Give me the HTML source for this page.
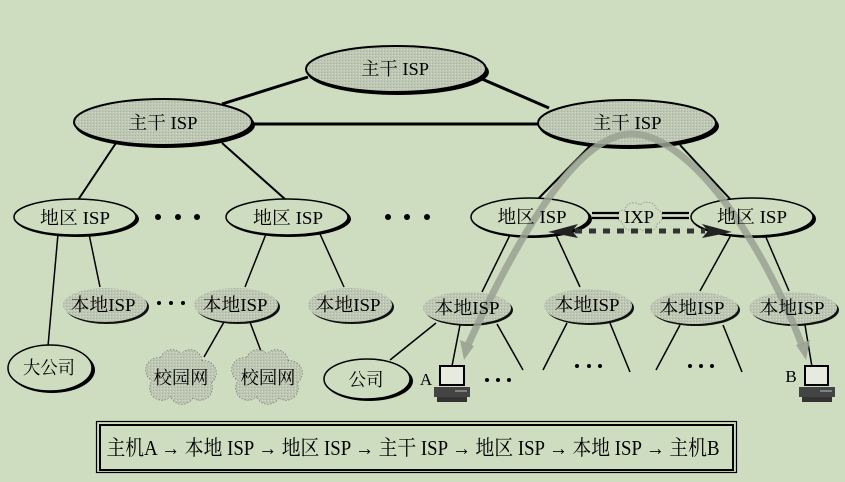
<!DOCTYPE html>
<html><head><meta charset="utf-8"><style>
html,body{margin:0;padding:0;background:#cedcc0;}
svg{display:block;}
text{font-family:"Liberation Serif","Noto Serif CJK SC",serif;fill:#000;}
</style></head><body>
<svg width="845" height="482" viewBox="0 0 845 482" xmlns="http://www.w3.org/2000/svg">
<defs>
<pattern id="stip" width="3" height="3" patternUnits="userSpaceOnUse">
<rect width="3" height="3" fill="#bec7b4"/>
<rect x="0" y="0" width="1" height="1" fill="#a9b19f"/>
<rect x="2" y="1" width="1" height="1" fill="#d2dac8"/>
</pattern>
</defs>
<rect width="845" height="482" fill="#cedcc0"/>

<!-- backbone links -->
<g stroke="#000" stroke-width="3" fill="none">
<line x1="222" y1="104" x2="308" y2="77"/>
<line x1="482" y1="79" x2="549" y2="108"/>
<line x1="252" y1="124" x2="538" y2="124"/>
</g>
<!-- backbone to regional -->
<g stroke="#000" stroke-width="2" fill="none">
<line x1="116" y1="143" x2="78" y2="200"/>
<line x1="222" y1="143" x2="286" y2="200"/>
<line x1="591" y1="145" x2="537" y2="200"/>
<line x1="680" y1="145" x2="731" y2="200"/>
</g>
<!-- regional to local -->
<g stroke="#000" stroke-width="1.5" fill="none">
<line x1="58" y1="234" x2="48" y2="346"/>
<line x1="89" y1="234" x2="100" y2="287"/>
<line x1="266" y1="234" x2="245" y2="287"/>
<line x1="320" y1="234" x2="344" y2="287"/>
<line x1="510" y1="235" x2="482" y2="292"/>
<line x1="556" y1="235" x2="580" y2="287"/>
<line x1="731" y1="235" x2="700" y2="291"/>
<line x1="765" y1="235" x2="789" y2="291"/>
<!-- local to leaves -->
<line x1="224" y1="322" x2="204" y2="357"/>
<line x1="250" y1="322" x2="262" y2="354"/>
<line x1="390" y1="360" x2="436" y2="323"/>
<line x1="460" y1="325" x2="452" y2="366"/>
<line x1="497" y1="324" x2="523" y2="370"/>
<line x1="567" y1="323" x2="543" y2="370"/>
<line x1="610" y1="323" x2="630" y2="372"/>
<line x1="680" y1="325" x2="656" y2="370"/>
<line x1="723" y1="325" x2="742" y2="372"/>
<line x1="805" y1="325" x2="812" y2="367"/>
</g>

<!-- backbone ellipses -->
<g>
<ellipse cx="398" cy="72" rx="91" ry="23" fill="#000"/>
<ellipse cx="396" cy="69" rx="90" ry="23" fill="url(#stip)" stroke="#000" stroke-width="2"/>
<ellipse cx="165" cy="125" rx="90" ry="23" fill="#000"/>
<ellipse cx="163" cy="122" rx="89" ry="23" fill="url(#stip)" stroke="#000" stroke-width="2"/>
<ellipse cx="629" cy="126" rx="90" ry="23" fill="#000"/>
<ellipse cx="627" cy="123" rx="89" ry="23" fill="url(#stip)" stroke="#000" stroke-width="2"/>
</g>

<!-- regional ellipses -->
<g>
<ellipse cx="77" cy="219" rx="62" ry="18" fill="#000"/>
<ellipse cx="75" cy="217" rx="61" ry="18" fill="#cedcc0" stroke="#000" stroke-width="1.5"/>
<ellipse cx="289" cy="219" rx="62" ry="18" fill="#000"/>
<ellipse cx="287" cy="217" rx="61" ry="18" fill="#cedcc0" stroke="#000" stroke-width="1.5"/>
<ellipse cx="532" cy="219" rx="60" ry="19" fill="#000"/>
<ellipse cx="530" cy="217" rx="59" ry="19" fill="#cedcc0" stroke="#000" stroke-width="1.5"/>
<ellipse cx="754" cy="219" rx="62" ry="19" fill="#000"/>
<ellipse cx="752" cy="217" rx="61" ry="19" fill="#cedcc0" stroke="#000" stroke-width="1.5"/>
</g>

<!-- local ISP ellipses -->
<g>
<ellipse cx="107" cy="307" rx="42" ry="17" fill="#111"/>
<ellipse cx="105" cy="305" rx="42" ry="17" fill="url(#stip)"/>
<ellipse cx="238" cy="307" rx="42" ry="17" fill="#111"/>
<ellipse cx="236" cy="305" rx="42" ry="17" fill="url(#stip)"/>
<ellipse cx="352" cy="307" rx="42" ry="17" fill="#111"/>
<ellipse cx="350" cy="305" rx="42" ry="17" fill="url(#stip)"/>
<ellipse cx="469" cy="310" rx="44" ry="16" fill="#111"/>
<ellipse cx="467" cy="308" rx="44" ry="16" fill="url(#stip)"/>
<ellipse cx="590" cy="308" rx="44" ry="17" fill="#111"/>
<ellipse cx="588" cy="306" rx="44" ry="17" fill="url(#stip)"/>
<ellipse cx="696" cy="310" rx="44" ry="16" fill="#111"/>
<ellipse cx="694" cy="308" rx="44" ry="16" fill="url(#stip)"/>
<ellipse cx="795" cy="310" rx="44" ry="16" fill="#111"/>
<ellipse cx="793" cy="308" rx="44" ry="16" fill="url(#stip)"/>
</g>

<!-- 大公司 / 公司 -->
<ellipse cx="52" cy="370" rx="43" ry="23" fill="#000"/>
<ellipse cx="50" cy="368" rx="42" ry="23" fill="#cedcc0" stroke="#000" stroke-width="1.5"/>
<ellipse cx="369" cy="381" rx="44" ry="20" fill="#000"/>
<ellipse cx="367" cy="379" rx="43" ry="20" fill="#cedcc0" stroke="#000" stroke-width="1.5"/>

<!-- campus clouds -->
<g>
<g fill="none" stroke="#666" stroke-width="1.2" stroke-dasharray="1.5 1.5">
<circle cx="158" cy="370" r="12"/><circle cx="172" cy="362" r="12"/><circle cx="190" cy="362" r="12"/>
<circle cx="204" cy="373" r="12"/><circle cx="200" cy="388" r="12"/><circle cx="182" cy="392" r="12"/><circle cx="162" cy="388" r="12"/>
</g>
<g fill="url(#stip)">
<circle cx="158" cy="370" r="12"/><circle cx="172" cy="362" r="12"/><circle cx="190" cy="362" r="12"/>
<circle cx="204" cy="373" r="12"/><circle cx="200" cy="388" r="12"/><circle cx="182" cy="392" r="12"/><circle cx="162" cy="388" r="12"/>
<ellipse cx="181" cy="377" rx="26" ry="18"/>
</g>
</g>
<g transform="translate(86,0)">
<g fill="none" stroke="#666" stroke-width="1.2" stroke-dasharray="1.5 1.5">
<circle cx="158" cy="370" r="12"/><circle cx="172" cy="362" r="12"/><circle cx="190" cy="362" r="12"/>
<circle cx="204" cy="373" r="12"/><circle cx="200" cy="388" r="12"/><circle cx="182" cy="392" r="12"/><circle cx="162" cy="388" r="12"/>
</g>
<g fill="url(#stip)">
<circle cx="158" cy="370" r="12"/><circle cx="172" cy="362" r="12"/><circle cx="190" cy="362" r="12"/>
<circle cx="204" cy="373" r="12"/><circle cx="200" cy="388" r="12"/><circle cx="182" cy="392" r="12"/><circle cx="162" cy="388" r="12"/>
<ellipse cx="181" cy="377" rx="26" ry="18"/>
</g>
</g>

<!-- IXP -->
<g fill="none" stroke="#999" stroke-width="1" stroke-dasharray="1.5 1.5">
<path d="M622,222 C615,220 616,209 625,210 C626,202 636,201 640,205 C645,200 656,202 656,209 C664,210 664,222 657,224 C656,232 646,233 640,229 C634,233 624,231 622,222 Z"/>
</g>
<g stroke="#000" stroke-width="2.2">
<line x1="592" y1="213" x2="619" y2="213"/>
<line x1="592" y1="218" x2="619" y2="218"/>
<line x1="662" y1="213" x2="689" y2="213"/>
<line x1="662" y1="218" x2="689" y2="218"/>
</g>
<line x1="575" y1="231" x2="705" y2="231" stroke="#333" stroke-width="5" stroke-dasharray="7 7"/>
<polygon points="548,232 578,224 572,231 578,238" fill="#222"/>
<polygon points="732,232 702,224 708,231 702,238" fill="#222"/>

<!-- gray route curve -->
<path d="M468,345 C520,232 580,130 635,134 C690,138 760,236 802,345" fill="none" stroke="#9aa293" stroke-width="7" opacity="0.85"/>
<polygon points="464,360 460,340 474,346" fill="#9aa293" opacity="0.9"/>
<polygon points="806,360 796,345 810,340" fill="#9aa293" opacity="0.9"/>

<!-- dots -->
<g fill="#000">
<circle cx="158" cy="217" r="3"/><circle cx="178" cy="217" r="3"/><circle cx="197" cy="217" r="3"/>
<circle cx="388" cy="217" r="3"/><circle cx="407" cy="217" r="3"/><circle cx="427" cy="217" r="3"/>
<circle cx="159" cy="303" r="2"/><circle cx="171" cy="303" r="2"/><circle cx="183" cy="303" r="2"/>
<circle cx="487" cy="380" r="2"/><circle cx="498" cy="380" r="2"/><circle cx="509" cy="380" r="2"/>
<circle cx="577" cy="366" r="2"/><circle cx="589" cy="366" r="2"/><circle cx="600" cy="366" r="2"/>
<circle cx="690" cy="366" r="2"/><circle cx="701" cy="366" r="2"/><circle cx="712" cy="366" r="2"/>
</g>

<!-- computers -->
<g>
<rect x="440" y="366" width="24" height="19" fill="#e6eadf" stroke="#000" stroke-width="2"/>
<rect x="434" y="387" width="36" height="10" fill="#444"/>
<rect x="437" y="397" width="30" height="5" fill="#333"/>
<line x1="455" y1="391" x2="467" y2="391" stroke="#bbb" stroke-width="1"/>
<rect x="805" y="366" width="23" height="19" fill="#e6eadf" stroke="#000" stroke-width="2"/>
<rect x="799" y="387" width="36" height="10" fill="#444"/>
<rect x="802" y="397" width="30" height="5" fill="#333"/>
<line x1="820" y1="391" x2="832" y2="391" stroke="#bbb" stroke-width="1"/>
</g>
<text x="426" y="385" font-size="17" text-anchor="middle">A</text>
<text x="791" y="382" font-size="17" text-anchor="middle">B</text>

<!-- labels -->
<g font-size="18" text-anchor="middle">
<text x="395" y="75" textLength="68" lengthAdjust="spacingAndGlyphs">主干 ISP</text>
<text x="163" y="129" textLength="69" lengthAdjust="spacingAndGlyphs">主干 ISP</text>
<text x="627" y="129" textLength="69" lengthAdjust="spacingAndGlyphs">主干 ISP</text>
<text x="75" y="224" textLength="70" lengthAdjust="spacingAndGlyphs">地区 ISP</text>
<text x="288" y="224" textLength="70" lengthAdjust="spacingAndGlyphs">地区 ISP</text>
<text x="532" y="223" textLength="69" lengthAdjust="spacingAndGlyphs">地区 ISP</text>
<text x="752" y="223" textLength="70" lengthAdjust="spacingAndGlyphs">地区 ISP</text>
<text x="639" y="223" textLength="30" lengthAdjust="spacingAndGlyphs">IXP</text>
</g>
<g font-size="18" text-anchor="middle">
<text x="103" y="311" textLength="65" lengthAdjust="spacingAndGlyphs">本地ISP</text>
<text x="235" y="311" textLength="65" lengthAdjust="spacingAndGlyphs">本地ISP</text>
<text x="348" y="311" textLength="65" lengthAdjust="spacingAndGlyphs">本地ISP</text>
<text x="467" y="314" textLength="65" lengthAdjust="spacingAndGlyphs">本地ISP</text>
<text x="587" y="311" textLength="65" lengthAdjust="spacingAndGlyphs">本地ISP</text>
<text x="692" y="314" textLength="65" lengthAdjust="spacingAndGlyphs">本地ISP</text>
<text x="792" y="314" textLength="65" lengthAdjust="spacingAndGlyphs">本地ISP</text>
<text x="49" y="374" textLength="52" lengthAdjust="spacingAndGlyphs">大公司</text>
<text x="366" y="386" textLength="35" lengthAdjust="spacingAndGlyphs">公司</text>
<text x="181" y="384" textLength="55" lengthAdjust="spacingAndGlyphs">校园网</text>
<text x="268" y="384" textLength="55" lengthAdjust="spacingAndGlyphs">校园网</text>
</g>

<!-- bottom box -->
<rect x="96.5" y="421.5" width="640" height="51" fill="none" stroke="#000" stroke-width="1.2"/>
<rect x="100" y="425" width="633" height="45" fill="none" stroke="#000" stroke-width="2"/>
<text x="413" y="455" font-size="21" text-anchor="middle" textLength="613" lengthAdjust="spacingAndGlyphs">主机A → 本地 ISP → 地区 ISP → 主干 ISP → 地区 ISP → 本地 ISP → 主机B</text>
</svg>
</body></html>
